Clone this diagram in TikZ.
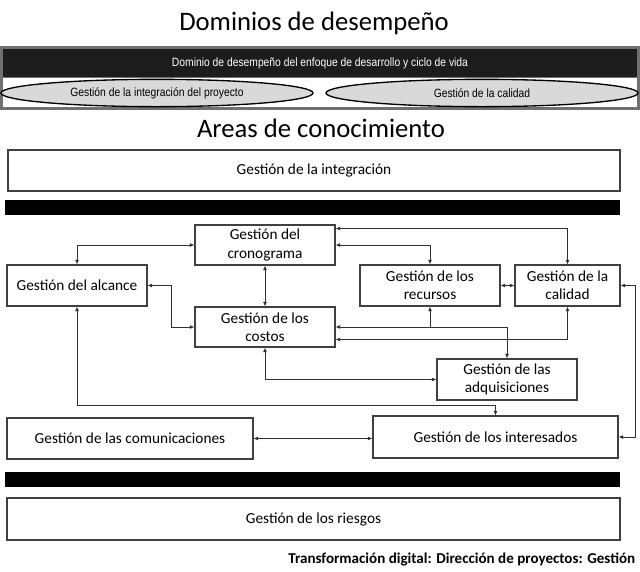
\documentclass[tikz,border=0pt]{standalone}
\usepackage{fontspec}
\setmainfont{Carlito}
\newfontfamily\bannerfont[FakeStretch=0.86]{Liberation Sans}
\usetikzlibrary{arrows.meta,calc,shapes.geometric}
\definecolor{edgecol}{HTML}{404040}
\definecolor{conncol}{HTML}{303030}
\definecolor{bannergray}{HTML}{707070}
\definecolor{bannerdark}{HTML}{1C1C1C}
\definecolor{ellgray}{HTML}{D9D9D9}
\tikzset{
  box/.style 2 args={draw=edgecol, line width=0.8pt, inner sep=0pt, align=center,
    minimum width=#1*0.75pt, minimum height=#2*0.75pt, font=\fontsize{11.5}{13.8}\selectfont},
  conn/.style={draw=conncol, line width=0.6pt, {Latex[length=3.5pt,width=3pt]}-{Latex[length=3.5pt,width=3pt]}},
  connstart/.style={draw=conncol, line width=0.6pt, {Latex[length=3.5pt,width=3pt]}-},
  bar/.style={fill=black},
  ell/.style={ellipse, draw=black, fill=ellgray, line width=1pt, inner sep=0pt, minimum width=234pt, minimum height=20.5pt, font=\bannerfont\fontsize{9}{11}\selectfont},
  titlefont/.style={font=\fontsize{20}{24}\selectfont}
}
\begin{document}
\begin{tikzpicture}[x=0.75pt,y=-0.75pt]
\useasboundingbox (0,0) rectangle (640,572);
\fill[white] (0,0) rectangle (640,572);

% titles
\node[titlefont] (t1) at (314,23) {Dominios de desempeño};
\node[titlefont] (t2) at (321,128) {Areas de conocimiento};

% banner
\fill[bannergray] (0,46) rectangle (640,110);
\fill[bannerdark] (3,49) rectangle (637,77);
\fill[white] (3,78) rectangle (637,107);
\node[text=white, font=\bannerfont\fontsize{9}{11}\selectfont] (bt) at (320,63) {Dominio de desempeño del enfoque de desarrollo y ciclo de vida};
\node[ell] (e1) at (157,93) {Gestión de la integración del proyecto};
\node[ell] (e2) at (482,93) {Gestión de la calidad};

% boxes
\node[box={612}{41}] (integ) at (314,170.5) {Gestión de la integración};
\fill[bar] (5,200) rectangle (620,215);
\node[box={140}{40}] (crono) at (265,245) {Gestión del\\cronograma};
\node[box={140}{41}] (alc) at (77,285.5) {Gestión del alcance};
\node[box={140}{41}] (rec) at (430,285.5) {Gestión de los\\recursos};
\node[box={105}{41}] (cal) at (567.5,285.5) {Gestión de la\\calidad};
\node[box={140}{40}] (cost) at (265,327) {Gestión de los\\costos};
\node[box={140}{41}] (adq) at (507,379.5) {Gestión de las\\adquisiciones};
\node[box={246}{41}] (com) at (130,438.5) {Gestión de las comunicaciones};
\node[box={245}{42}] (int) at (495.5,437) {Gestión de los interesados};
\fill[bar] (5,472) rectangle (620,487);
\node[box={613}{42}] (ries) at (313.5,519) {Gestión de los riesgos};

\node[anchor=east, font=\bfseries\fontsize{11.3}{13}\selectfont] (foot) at (640,559) {Transformación digital: Dirección de proyectos: Gestión};

% connectors
\coordinate (lowbus) at (0,405);
\draw[conn] (alc.north) |- (crono.west);
\draw[conn] (alc.east) -- ++(24,0) |- (cost.west);
\draw[conn] (crono.south) -- (cost.north);
\draw[conn] (cost.south) |- (adq.west);
\draw[conn] (alc.south) |- (int.north |- lowbus) -- (int.north);
\draw[conn] ($(crono.north east)+(0,4)$) -| (cal.north);
\draw[conn] (crono.east) -| (rec.north);
\draw[conn] (rec.east) -- (cal.west);
\draw[conn] (cost.east) -| (adq.north);
\draw[connstart] (rec.south) -- (rec.south |- cost.east);
\draw[conn] ($(cost.south east)+(0,-8)$) -| (cal.south);
\draw[conn] (cal.east) -- ++(15,0) |- (int.east);
\draw[conn] (com.east) -- (com.east -| int.west);
\end{tikzpicture}
\end{document}
